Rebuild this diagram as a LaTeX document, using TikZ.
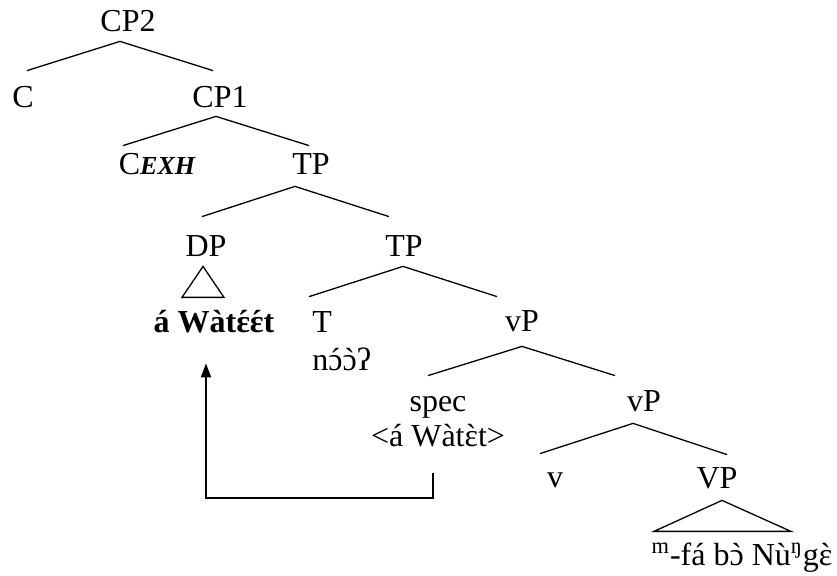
\documentclass[tikz,border=0pt]{standalone}
\usepackage{fontspec}
\setmainfont{Liberation Serif}
\usetikzlibrary{arrows.meta}

% acentos sobre letras IPA
\newcommand\agudo[1]{{\accent"B4 #1}}
\newcommand\grav[1]{{\accent"2CB #1}}

\tikzset{
  cat/.style={anchor=base, inner sep=0pt, text height=11pt, text depth=0pt},
  palabra/.style={anchor=base, inner sep=0pt, text depth=0pt},
  rama/.style={line width=0.65pt},
  mov/.style={line width=1pt, -{Triangle[length=7pt,width=5pt]}}
}

\begin{document}
\begin{tikzpicture}[x=0.5pt, y=-0.5pt, font=\fontsize{16}{19}\selectfont]
    \useasboundingbox (0,0) rectangle (837,576);

    % Categorias
    \node[cat] (cp2) at (128,32) {CP2};
    \node[cat] (c) at (23,108) {C};
    \node[cat] (cp1) at (220,108) {CP1};
    \node[cat] (cexh) at (157,175) {C{\fontsize{13}{13}\selectfont\bfseries\itshape EXH}};
    \node[cat] (tp1) at (311,175) {TP};
    \node[cat] (dp) at (206,257) {DP};
    \node[cat] (tp2) at (404,257) {TP};
    \node[cat, anchor=base west] (t) at (312,333) {T};
    \node[cat] (vp1) at (522,332) {vP};
    \node[cat] (spec) at (438,412) {spec};
    \node[cat] (vp2) at (644,412) {vP};
    \node[cat] (v) at (555,488) {v};
    \node[cat] (vp3) at (717,489) {VP};

    % Palabras
    \node[palabra] (wat) at (214,333) {\bfseries á Wàt\agudo{ɛ}\agudo{ɛ}t};
    \node[palabra, anchor=base west] (noo) at (312,371) {n\agudo{ɔ}\grav{ɔ}ʔ};
    \node[palabra] (huella) at (438,447) {<á Wàt\grav{ɛ}t>};
    \node[palabra] (verbo) at (742,566) {\textsuperscript{m}-fá b\grav{ɔ} Nù\textsuperscript{ŋ}g\grav{ɛ}};

    % Ramas
    \draw[rama] ([xshift=2pt,yshift=7.5pt]c.north) -- ([xshift=-4pt,yshift=-4.5pt]cp2.south)
        -- ([xshift=-3.5pt,yshift=7.5pt]cp1.north);
    \draw[rama] ([xshift=-17pt,yshift=3.5pt]cexh.north) -- ([xshift=-2pt,yshift=-4pt]cp1.south)
        -- ([xshift=-1pt,yshift=3.5pt]tp1.north);
    \draw[rama] ([xshift=-2pt,yshift=9pt]dp.north) -- ([xshift=-8pt,yshift=-5.5pt]tp1.south)
        -- ([xshift=-7.5pt,yshift=9pt]tp2.north);
    \draw[rama] ([xshift=-6.5pt,yshift=7pt]t.north) -- ([xshift=-0.5pt,yshift=-4.5pt]tp2.south)
        -- ([xshift=-12.5pt,yshift=6.5pt]vp1.north);
    \draw[rama] ([xshift=-5pt,yshift=7pt]spec.north) -- ([yshift=-7pt]vp1.south)
        -- ([xshift=-14.5pt,yshift=7pt]vp2.north);
    \draw[rama] ([xshift=-7.5pt,yshift=6pt]v.north) -- ([xshift=-5.5pt,yshift=-5.5pt]vp2.south)
        -- ([xshift=5pt,yshift=6pt]vp3.north);

    % Triangulos
    \draw[rama] ([xshift=-1.5pt,yshift=-4.5pt]dp.south) -- ++(-21,31) -- ++(42,0) -- cycle;
    \draw[rama] ([xshift=2.5pt,yshift=-5.5pt]vp3.south) -- ++(-68,31) -- ++(137,0) -- cycle;

    % Movimiento
    \draw[mov] ([xshift=-2.5pt,yshift=-13pt]huella.south) -- ([xshift=-2.5pt,yshift=-25.5pt]huella.south)
        -| ([xshift=-4pt,yshift=-15pt]wat.south);
\end{tikzpicture}
\end{document}
